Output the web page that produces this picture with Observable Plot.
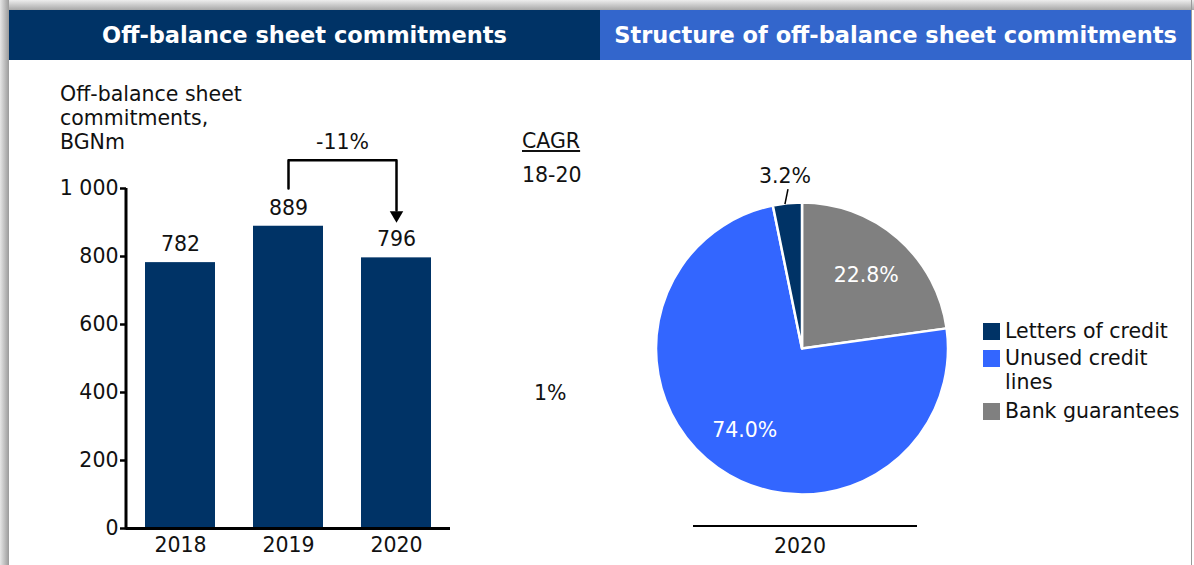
<!DOCTYPE html>
<html><head><meta charset="utf-8">
<script src="https://cdn.jsdelivr.net/npm/d3@7"></script>
<script src="https://cdn.jsdelivr.net/npm/@observablehq/plot@0.6"></script>
<style>
body{margin:0;background:#fff;font-family:"DejaVu Sans",Verdana,sans-serif;}
#wrap{position:relative;width:1194px;height:565px;overflow:hidden;background:#fff;}
.hdr{position:absolute;top:10px;height:50px;color:#fff;font-weight:bold;font-size:22.5px;display:flex;align-items:center;justify-content:center;white-space:nowrap;}
.txt{position:absolute;font-size:20.5px;color:#111;line-height:24px;white-space:nowrap;}
.plot{position:absolute;top:60px;}
.sw{position:absolute;width:17px;height:17px;}
</style></head><body><div id="wrap"></div>
<script>
// ---- data ----
const years = ["2018", "2019", "2020"];
const commitments = [782, 889, 796];
const yTicks = [0, 200, 400, 600, 800, 1000];
const changeFrom = "2019";
const changeTo = "2020";
const changeLabel = "-11%";
const cagrLabel = "1%";
const structureCategories = ["Bank guarantees", "Unused credit lines", "Letters of credit"];
const structureShares = [22.8, 74.0, 3.2];
const structureColors = ["#808080", "#3366ff", "#003366"];
const legendCategories = ["Letters of credit", "Unused credit lines", "Bank guarantees"];
const legendLines = [["Letters of credit"], ["Unused credit", "lines"], ["Bank guarantees"]];
const pieYear = "2020";

const navy = "#003366";
const font = "DejaVu Sans, Verdana, sans-serif";
const fs = 20.5;
const wrap = document.getElementById("wrap");

function add(html) { wrap.insertAdjacentHTML("beforeend", html); }

// frame / headers
add(`<div style="position:absolute;left:0;top:0;width:1194px;height:10px;background:linear-gradient(#ededed,#a8a8a8);"></div>`);
add(`<div style="position:absolute;left:0;top:0;width:9px;height:565px;background:linear-gradient(90deg,#e6e6e6,#9a9a9a);"></div>`);
add(`<div style="position:absolute;left:1191px;top:0;width:1px;height:565px;background:#9a9a9a;"></div>`);
add(`<div class="hdr" style="left:9px;width:591px;background:${navy};">Off-balance sheet commitments</div>`);
add(`<div class="hdr" style="left:600px;width:591px;background:#3366cc;">Structure of off-balance sheet commitments</div>`);

// ---- bar chart ----
const barData = years.map((year, i) => ({year, value: commitments[i]}));
const yMax = yTicks[yTicks.length - 1];
const bracketBase = yMax;
const bracketTop = yMax * 1.083;
const arrowBase = yMax * 0.935;
const arrowCenter = yMax * 0.922;
const yAxisLine = (index, scales, values, dims) => {
  const g = d3.create("svg:g");
  const x = dims.marginLeft;
  g.append("line").attr("x1", x).attr("x2", x)
    .attr("y1", scales.y(0) + 1.5).attr("y2", scales.y(yMax))
    .attr("stroke", "#000").attr("stroke-width", 3);
  return g.node();
};

const barPlot = Plot.plot({
  width: 600, height: 505,
  marginLeft: 126, marginRight: 150, marginTop: 128, marginBottom: 37,
  style: {fontFamily: font, fontSize: fs + "px", color: "#111", background: "transparent", overflow: "visible"},
  x: {domain: years, paddingInner: 0.352, paddingOuter: 0.176, axis: null},
  y: {domain: [0, yMax], axis: null},
  marks: [
    Plot.barY(barData, {x: "year", y: "value", fill: navy}),
    Plot.axisY({ticks: yTicks, tickSize: 6, tickPadding: 2, tickFormat: d => d3.format(",")(d).replace(/,/g, " "), label: null, fontSize: fs, stroke: "#000", strokeWidth: 2.5, fill: "#111"}),
    Plot.axisX({tickSize: 0, tickPadding: 9, label: null, fontSize: fs, fill: "#111"}),
    Plot.ruleY([0], {stroke: "#000", strokeWidth: 3}),
    yAxisLine,
    Plot.text(barData, {x: "year", y: "value", text: d => String(d.value), dy: -18, fontSize: fs, fill: "#111"}),
    Plot.line([
      {x: changeFrom, y: bracketBase}, {x: changeFrom, y: bracketTop},
      {x: changeTo, y: bracketTop}, {x: changeTo, y: arrowBase}
    ], {x: "x", y: "y", stroke: "#000", strokeWidth: 2.5, curve: "linear"}),
    Plot.dot([{x: changeTo, y: arrowCenter}], {x: "x", y: "y", symbol: "triangle", r: 5, fill: "#000", rotate: 180, stroke: null}),
    Plot.text([{x: changeFrom, y: yMax * 1.135}], {x: "x", y: "y", text: () => changeLabel, dx: 54, fontSize: fs, fill: "#111"})
  ]
});
barPlot.classList.add("plot");
barPlot.style.left = "0px";
wrap.appendChild(barPlot);

add(`<div class="txt" style="left:60px;top:82px;">Off-balance sheet<br>commitments,<br>BGNm</div>`);
add(`<div class="txt" style="left:522px;top:129px;text-decoration:underline;">CAGR</div>`);
add(`<div class="txt" style="left:522px;top:163px;">18-20</div>`);
add(`<div class="txt" style="left:534px;top:381px;">${cagrLabel}</div>`);

// ---- pie chart ----
const pieData = structureCategories.map((category, i) => ({category, share: structureShares[i], color: structureColors[i]}));
const pieArcs = d3.pie().sort(null).value(d => d.share)(pieData);
const labelRadius = {"Bank guarantees": 0.665, "Unused credit lines": 0.685, "Letters of credit": 1.19};
const pieLabels = pieArcs.map(a => {
  const mid = (a.startAngle + a.endAngle) / 2;
  const k = labelRadius[a.data.category];
  return {x: k * Math.sin(mid), y: k * Math.cos(mid), text: a.data.share.toFixed(1) + "%", inside: k < 1, mid};
});
const outside = pieLabels.filter(d => !d.inside).map(d => ({
  x1: Math.sin(d.mid - 0.02) * 1.0, y1: Math.cos(d.mid - 0.02) * 1.0,
  x2: Math.sin(d.mid + 0.01) * 1.1, y2: Math.cos(d.mid + 0.01) * 1.1
}));
const pieMark = (index, scales, values, dims) => {
  const cx = scales.x(0), cy = scales.y(0), r = scales.x(1) - cx;
  const arc = d3.arc().innerRadius(0).outerRadius(r);
  const g = d3.create("svg:g").attr("transform", `translate(${cx},${cy})`);
  g.selectAll("path").data(pieArcs).join("path")
    .attr("d", arc).attr("fill", d => d.data.color)
    .attr("stroke", "#fff").attr("stroke-width", 2.5).attr("stroke-linejoin", "round");
  return g.node();
};

const piePlot = Plot.plot({
  width: 594, height: 505,
  marginLeft: 56, marginRight: 246, marginTop: 142.5, marginBottom: 70.5,
  style: {fontFamily: font, fontSize: fs + "px", background: "transparent", overflow: "visible"},
  x: {domain: [-1, 1], axis: null},
  y: {domain: [-1, 1], axis: null},
  marks: [
    pieMark,
    Plot.text(pieLabels, {x: "x", y: "y", text: "text", fontSize: fs, fill: d => d.inside ? "#fff" : "#111"}),
    Plot.link(outside, {x1: "x1", y1: "y1", x2: "x2", y2: "y2", stroke: "#000", strokeWidth: 1.5})
  ]
});
piePlot.classList.add("plot");
piePlot.style.left = "600px";
wrap.appendChild(piePlot);

// legend
const legendTops = [319, 346, 399];
const swatchTops = [322.5, 349.5, 402.5];
legendCategories.forEach((c, i) => {
  const color = structureColors[structureCategories.indexOf(c)];
  add(`<div class="sw" style="left:983px;top:${swatchTops[i]}px;background:${color};"></div>`);
  add(`<div class="txt" style="left:1005px;top:${legendTops[i]}px;">${legendLines[i].join("<br>")}</div>`);
});

// pie year axis
add(`<div style="position:absolute;left:693px;top:524.5px;width:224px;height:2.5px;background:#000;"></div>`);
add(`<div class="txt" style="left:688px;width:224px;text-align:center;top:534px;">${pieYear}</div>`);
</script></body></html>
